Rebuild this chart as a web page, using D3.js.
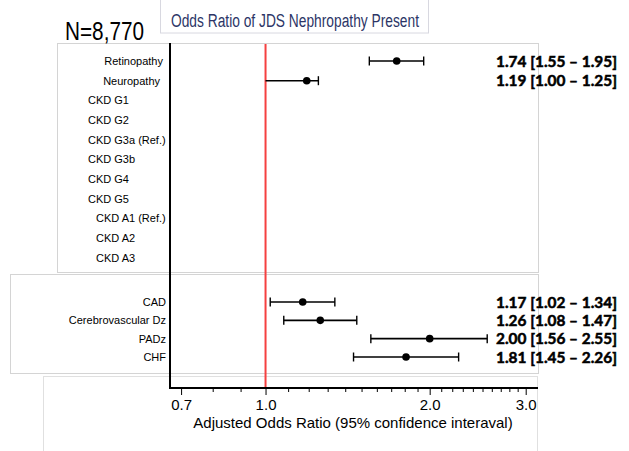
<!DOCTYPE html>
<html><head><meta charset="utf-8">
<script src="https://cdn.jsdelivr.net/npm/d3@7"></script>
<style>body{margin:0;background:#fff}svg{display:block}</style>
</head><body>
<svg id="c" width="629" height="451"></svg>
<script>
// ---- data ----
const upperLabels = ["Retinopathy","Neuropathy","CKD G1","CKD G2","CKD G3a (Ref.)","CKD G3b","CKD G4","CKD G5","CKD A1 (Ref.)","CKD A2","CKD A3"];
const upperGroups = ["comp","comp","G","G","G","G","G","G","A","A","A"];
const upperOR  = [1.74, 1.19, null,null,null,null,null,null,null,null,null];
const upperLo  = [1.55, 1.00, null,null,null,null,null,null,null,null,null];
const upperHi  = [1.95, 1.25, null,null,null,null,null,null,null,null,null];
const upperText = ["1.74 [1.55 \u2013 1.95]","1.19 [1.00 \u2013 1.25]"];
const lowerLabels = ["CAD","Cerebrovascular Dz","PADz","CHF"];
const lowerOR = [1.17, 1.26, 2.00, 1.81];
const lowerLo = [1.02, 1.08, 1.56, 1.45];
const lowerHi = [1.34, 1.47, 2.55, 2.26];
const lowerText = ["1.17 [1.02 \u2013 1.34]","1.26 [1.08 \u2013 1.47]","2.00 [1.56 \u2013 2.55]","1.81 [1.45 \u2013 2.26]"];
const majorTicks = [0.7, 1.0, 2.0, 3.0];
const minorTicks = [0.8,0.9,1.1,1.2,1.3,1.4,1.5,1.6,1.7,1.8,1.9,2.1,2.2,2.3,2.4,2.5,2.6,2.7,2.8,2.9];
const titleText = "Odds Ratio of JDS Nephropathy Present";
const nText = "N=8,770";
const xTitle = "Adjusted Odds Ratio (95% confidence interaval)";
const refValue = 1.0;

// ---- drawing ----
const svg = d3.select("#c");
const font = "Liberation Sans, Arial, Helvetica, sans-serif";
const boxColor = "#d4d4d4";

// panel boxes
svg.append("rect").attr("x",43.5).attr("y",376.5).attr("width",494).attr("height",90)
  .attr("fill","none").attr("stroke","#e0e0e0");
svg.append("rect").attr("x",57.5).attr("y",43.5).attr("width",481).attr("height",229)
  .attr("fill","none").attr("stroke",boxColor);
svg.append("rect").attr("x",10.5).attr("y",274.5).attr("width",528).attr("height",99)
  .attr("fill","none").attr("stroke",boxColor);

// title box
svg.append("rect").attr("x",160.5).attr("y",-1).attr("width",268).attr("height",34)
  .attr("fill","#fff").attr("stroke","#d8d8e0");
svg.append("text").attr("x",295).attr("y",27).attr("text-anchor","middle")
  .attr("font-family",font).attr("font-size",18).attr("fill","#2c3566")
  .attr("textLength",248).attr("lengthAdjust","spacingAndGlyphs").text(titleText);

svg.append("text").attr("x",65).attr("y",39.5).attr("font-family",font)
  .attr("font-size",25).attr("fill","#000")
  .attr("textLength",79).attr("lengthAdjust","spacingAndGlyphs").text(nText);

const x = d3.scaleLog().domain([0.668, 3.16]).range([170, 538]);
const yU = d3.scalePoint().domain(upperLabels).range([61, 258]);
const yL = d3.scalePoint().domain(lowerLabels).range([302, 357]);

// reference line
svg.append("line").attr("x1",x(refValue)).attr("x2",x(refValue)).attr("y1",44).attr("y2",388)
  .attr("stroke","#f54040").attr("stroke-width",2);

// axes
const axisY = 388;
const gMinor = svg.append("g").attr("transform",`translate(0,${axisY})`)
  .call(d3.axisBottom(x).tickValues(minorTicks).tickSize(4).tickFormat(""));
gMinor.select(".domain").remove();
gMinor.selectAll("line").attr("stroke","#000").attr("stroke-width",1);
const gMajor = svg.append("g").attr("transform",`translate(0,${axisY})`)
  .call(d3.axisBottom(x).tickValues(majorTicks).tickSize(7).tickPadding(4).tickFormat(d3.format(".1f")));
gMajor.select(".domain").remove();
gMajor.selectAll("line").attr("stroke","#000").attr("stroke-width",1);
gMajor.selectAll("text").attr("font-family",font).attr("font-size",15).attr("fill","#000");
svg.append("line").attr("x1",169).attr("x2",538).attr("y1",axisY).attr("y2",axisY)
  .attr("stroke","#000").attr("stroke-width",2);
svg.append("line").attr("x1",170).attr("x2",170).attr("y1",43).attr("y2",389)
  .attr("stroke","#000").attr("stroke-width",2);

svg.append("text").attr("x",353).attr("y",428).attr("text-anchor","middle")
  .attr("font-family",font).attr("font-size",15).attr("fill","#000").text(xTitle);

// row labels
const labelPos = {comp:{x:163,anchor:"end"}, G:{x:88,anchor:"start"}, A:{x:96,anchor:"start"}};
svg.append("g").selectAll("text").data(upperLabels).join("text")
  .attr("x",(d,i)=> i===1 ? labelPos.comp.x-3 : labelPos[upperGroups[i]].x)
  .attr("y",d=>yU(d)).attr("dy","0.35em")
  .attr("text-anchor",(d,i)=>labelPos[upperGroups[i]].anchor)
  .attr("font-family",font).attr("font-size",11).attr("fill","#000").text(d=>d);
svg.append("g").selectAll("text").data(lowerLabels).join("text")
  .attr("x",166).attr("y",d=>yL(d)).attr("dy","0.35em").attr("text-anchor","end")
  .attr("font-family",font).attr("font-size",11).attr("fill","#000").text(d=>d);

// forest marks
function drawRows(labels, or, lo, hi, y, texts){
  const rows = labels.map((l,i)=>({l, or:or[i], lo:lo[i], hi:hi[i], t:texts[i]})).filter(r=>r.or!=null);
  const g = svg.append("g");
  rows.forEach(r=>{
    const yy = y(r.l);
    g.append("line").attr("x1",x(r.lo)).attr("x2",x(r.hi)).attr("y1",yy).attr("y2",yy)
      .attr("stroke","#000").attr("stroke-width",1.6);
    [r.lo, r.hi].forEach(v=>{
      if (v===refValue) return;
      g.append("line").attr("x1",x(v)).attr("x2",x(v)).attr("y1",yy-4.5).attr("y2",yy+4.5)
        .attr("stroke","#000").attr("stroke-width",1.4);
    });
    g.append("circle").attr("cx",x(r.or)).attr("cy",yy).attr("r",3.8).attr("fill","#000");
    g.append("text").attr("x",496).attr("y",yy+5.5).attr("font-family","Lato, 'Open Sans', sans-serif")
      .attr("font-weight","bold").attr("font-size",15).attr("fill","#000")
      .attr("stroke","#000").attr("stroke-width",0.5)
      .attr("textLength",121).attr("lengthAdjust","spacingAndGlyphs").text(r.t);
  });
}
drawRows(upperLabels, upperOR, upperLo, upperHi, yU, upperText);
drawRows(lowerLabels, lowerOR, lowerLo, lowerHi, yL, lowerText);
</script>
</body></html>
